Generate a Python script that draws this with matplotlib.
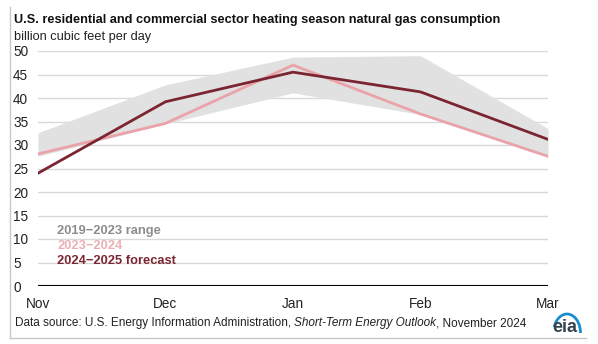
import matplotlib.pyplot as plt
from matplotlib.patches import Arc

plt.rcParams['font.family'] = ['Liberation Sans', 'DejaVu Sans']

months = ['Nov', 'Dec', 'Jan', 'Feb', 'Mar']
range_low = [27.6, 34.5, 41.1, 36.5, 27.4]
range_high = [32.6, 42.8, 48.7, 49.0, 33.5]
last_year = [28.1, 34.6, 47.0, 36.6, 27.6]
forecast = [24.0, 39.2, 45.5, 41.3, 31.2]

fig = plt.figure(figsize=(5.98, 3.44), dpi=100)
ax = fig.add_axes([38/598, 58/344, 510/598, 235/344])

x = range(len(months))
ax.fill_between(x, range_low, range_high, color='#e1e1e1', lw=0, zorder=1)
ax.plot(x, last_year, color='#e9a3a9', lw=2, zorder=3)
ax.plot(x, forecast, color='#7b2532', lw=2, zorder=4)

ax.set_xlim(0, 4)
ax.set_ylim(0, 50)
ax.set_yticks(range(0, 51, 5))
ax.set_xticks(list(x))
ax.set_xticklabels(months)
for v in range(5, 51, 5):
    ax.axhline(v, color='#d9d9d9', lw=1, zorder=0)
ax.axhline(0, color='black', lw=1.5, zorder=5)
for s in ax.spines.values():
    s.set_visible(False)
ax.tick_params(length=0, labelsize=9.8, colors='#222222')
ax.tick_params(axis='y', pad=18)
ax.tick_params(axis='x', pad=8)
for lab in ax.get_yticklabels():
    lab.set_horizontalalignment('left')

ax.text(0.15, 11.0, '2019\u22122023 range', color='#8c8c8c', fontsize=9.3, fontweight='bold')
ax.text(0.15, 7.8, '2023\u22122024', color='#eab0b5', fontsize=9.3, fontweight='bold')
ax.text(0.15, 4.6, '2024\u22122025 forecast', color='#7b2532', fontsize=9.3, fontweight='bold')

fig.text(14/598, 1 - 20/344, 'U.S. residential and commercial sector heating season natural gas consumption',
         fontsize=9.2, fontweight='bold', va='center', color='#111111')
fig.text(14/598, 1 - 37/344, 'billion cubic feet per day', fontsize=9.2, va='center', color='#222222')

src_y = 1 - 323/344
t1 = fig.text(15/598, src_y, 'Data source: U.S. Energy Information Administration, ', fontsize=8.5,
              va='center', color='#222222')
fig.canvas.draw()
t2 = fig.text(t1.get_window_extent().x1 / 598, src_y, 'Short-Term Energy Outlook', fontsize=8.5,
              style='italic', va='center', color='#222222')
fig.canvas.draw()
fig.text(t2.get_window_extent().x1 / 598, src_y, ', November 2024', fontsize=8.5, va='center',
         color='#222222')

# eia logo
logo = fig.add_axes([0, 0, 1, 1])
logo.axis('off')
logo.set_xlim(0, 598)
logo.set_ylim(0, 344)
logo.text(565, 344 - 327, 'eia', fontsize=13, fontweight='bold', color='#34434d',
          ha='center', va='center')
logo.add_patch(Arc((567, 344 - 333), 27, 38, theta1=0, theta2=155, color='#1a8fd0', lw=2))

# frame lines
logo.plot([10, 10], [6, 337], color='#c8c8c8', lw=1)
logo.plot([10, 586], [6, 6], color='#c8c8c8', lw=1)

fig.savefig('out.png', dpi=100)
